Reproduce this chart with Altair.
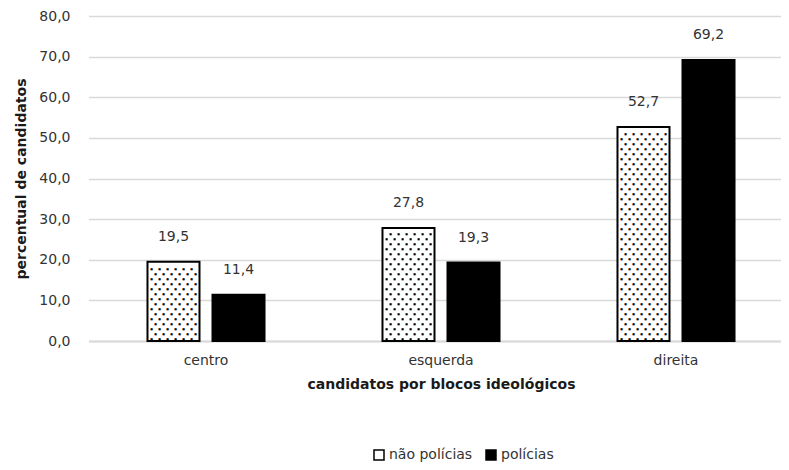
import altair as alt
import pandas as pd

cats = ["centro", "esquerda", "direita"]
series = ["não polícias", "polícias"]
nao_policias = [19.5, 27.8, 52.7]
policias = [11.4, 19.3, 69.2]
y_ticks = [0, 10, 20, 30, 40, 50, 60, 70, 80]

rows = []
for c, a, b in zip(cats, nao_policias, policias):
    rows.append({"cat": c, "serie": series[0], "valor": a})
    rows.append({"cat": c, "serie": series[1], "valor": b})
df = pd.DataFrame(rows)

FONT = "DejaVu Sans"
LABEL = "#333333"
TITLE = "#1a1a1a"

x_enc = alt.X(
    "cat:N", sort=cats,
    scale=alt.Scale(range=[0.5, 705.5], paddingInner=0.502, paddingOuter=0.251),
    axis=alt.Axis(title="candidatos por blocos ideológicos", labelAngle=0, ticks=False,
                  domainColor="#d9d9d9", domainWidth=2, labelPadding=12, titlePadding=10,
                  labelFontSize=14, titleFontSize=14, labelColor=LABEL, titleColor=TITLE,
                  titleFontWeight="bold"),
)
xo_enc = alt.XOffset("serie:N", sort=series,
                     scale=alt.Scale(paddingInner=0.2, paddingOuter=0))
y_enc = alt.Y(
    "valor:Q", scale=alt.Scale(domain=[0, 80]),
    axis=alt.Axis(title="percentual de candidatos", values=y_ticks,
                  labelExpr="replace(format(datum.value, '.1f'), '.', ',')",
                  domain=False, ticks=False, gridColor="#d9d9d9", gridWidth=1.5,
                  labelPadding=18, titlePadding=10, labelFontSize=14, titleFontSize=14,
                  labelColor=LABEL, titleColor=TITLE, titleFontWeight="bold"),
)

base = alt.Chart(df)

bars = base.mark_bar(stroke="black", strokeWidth=2).encode(
    x=x_enc, xOffset=xo_enc, y=y_enc,
    color=alt.Color("serie:N", sort=series,
                    scale=alt.Scale(domain=series, range=["white", "black"]),
                    legend=alt.Legend(title=None, orient="none", legendX=284, legendY=432,
                                      direction="horizontal", symbolType="square",
                                      symbolSize=100, symbolStrokeColor="black",
                                      symbolStrokeWidth=1.5, labelFontSize=14,
                                      labelFont=FONT, labelColor=LABEL,
                                      columnPadding=10, labelOffset=3)),
)

# dotted texture inside the "não polícias" bars
dots_base = (
    base.transform_filter(alt.datum.serie == series[0])
    .transform_calculate(idx="sequence(0, ceil(datum.valor / 1.23) + 1)")
    .transform_flatten(["idx"])
    .transform_calculate(yy="0.6 + datum.idx * 1.23", par="datum.idx % 2")
    .transform_filter("datum.yy < datum.valor - 0.45")
    .transform_calculate(valor="datum.yy")
)
dot_layers = []
for par, offsets in [(0, [-22, -14, -6, 2, 10, 18]), (1, [-18, -10, -2, 6, 14, 22])]:
    for dx in offsets:
        dot_layers.append(
            dots_base.transform_filter(f"datum.par == {par}")
            .mark_text(text="■", fontSize=2.8, color="black", dx=dx,
                       align="center", baseline="middle", font=FONT)
            .encode(x=x_enc, xOffset=xo_enc, y=y_enc)
        )

labels = base.transform_calculate(
    lbl="replace(format(datum.valor, '.1f'), '.', ',')"
).mark_text(dy=-25, baseline="middle", fontSize=14, font=FONT, color=LABEL).encode(
    x=x_enc, xOffset=xo_enc, y=y_enc, text="lbl:N"
)

chart = (
    alt.layer(bars, *dot_layers, labels)
    .properties(width=693, height=325,
                padding={"left": 80, "top": 8, "right": 0, "bottom": 121},
                autosize=alt.AutoSizeParams(type="none"))
    .configure_view(stroke=None)
    .configure_axis(labelFont=FONT, titleFont=FONT)
)

chart.save("out.html", embed_options={"renderer": "svg", "actions": False})
